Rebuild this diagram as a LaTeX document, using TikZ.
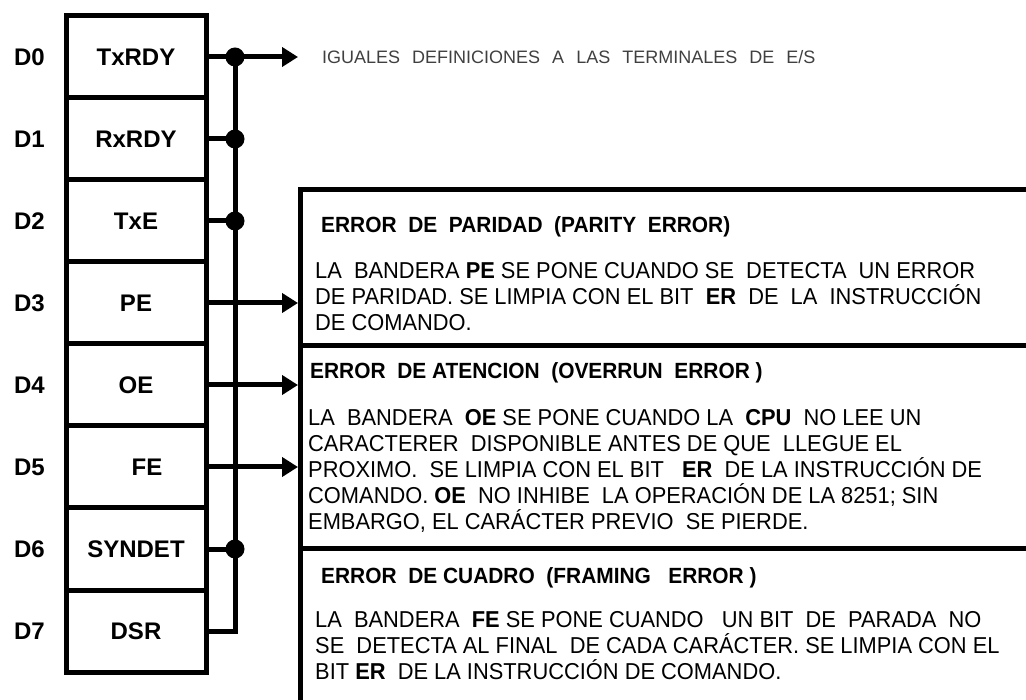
\documentclass[tikz,border=0pt]{standalone}
\usepackage{fontspec}
\setmainfont{Liberation Sans}
\newfontfamily\boxfont[FakeStretch=0.95]{Liberation Sans}
\usetikzlibrary{arrows.meta,positioning}
\tikzset{
    regcell/.style={
        rectangle,
        draw,
        line width=5pt,
        outer sep=0pt,
        inner sep=0pt,
        minimum width=140pt,
        minimum height=82pt,
        font=\bfseries\fontsize{24}{26}\selectfont
    },
    bitlabel/.style={inner sep=0pt, font=\bfseries\fontsize{24}{26}\selectfont},
    errbox/.style={rectangle, draw, line width=5pt, outer sep=0pt, minimum width=740pt, anchor=north west},
    errhead/.style={inner sep=0pt, anchor=base west, font=\boxfont\bfseries\fontsize{22}{24}\selectfont},
    errbody/.style={inner sep=0pt, anchor=north west, align=left, font=\boxfont\fontsize{23}{26}\selectfont},
    notetext/.style={inner sep=0pt, text=black!75, font={\fontsize{18}{20}\selectfont\spaceskip=12pt}},
    junction/.style={circle, fill, inner sep=0pt, minimum size=19pt},
    wire/.style={line width=5pt},
    flagline/.style={-{Triangle[length=16pt,width=19pt]}, line width=5pt},
}

\begin{document}
\begin{tikzpicture}[x=1pt, y=1pt]
    \useasboundingbox (0,0) rectangle (1026,-700);
    \clip (0,0) rectangle (1026,-700);

    % status register
    \node[regcell] (c0) at (136,-57) {TxRDY};
    \node[regcell, below=0pt of c0] (c1) {RxRDY};
    \node[regcell, below=0pt of c1] (c2) {TxE};
    \node[regcell, below=0pt of c2] (c3) {PE};
    \node[regcell, below=0pt of c3] (c4) {OE};
    \node[regcell, below=0pt of c4] (c5) {\hspace{22pt}FE};
    \node[regcell, below=0pt of c5] (c6) {SYNDET};
    \node[regcell, below=0pt of c6] (c7) {DSR};

    \node[bitlabel, left=21pt of c0] (d0) {D0};
    \node[bitlabel, left=21pt of c1] (d1) {D1};
    \node[bitlabel, left=21pt of c2] (d2) {D2};
    \node[bitlabel, left=21pt of c3] (d3) {D3};
    \node[bitlabel, left=21pt of c4] (d4) {D4};
    \node[bitlabel, left=21pt of c5] (d5) {D5};
    \node[bitlabel, left=21pt of c6] (d6) {D6};
    \node[bitlabel, left=21pt of c7] (d7) {D7};

    % bus
    \coordinate (bus) at ([xshift=29pt]c0.east);
    \node[junction] (j0) at (bus) {};
    \node[junction] (j1) at (c1.east -| bus) {};
    \node[junction] (j2) at (c2.east -| bus) {};
    \node[junction] (j6) at (c6.east -| bus) {};
    \node[notetext, right=116pt of c0] (note) {IGUALES DEFINICIONES A LAS TERMINALES DE E/S};

    \draw[flagline, shorten >=24pt] (c0) -- (note);
    \draw[wire] (c1) -- (j1.center);
    \draw[wire] (c2) -- (j2.center);
    \draw[wire] (c6) -- (j6.center);
    \draw[wire] (c7) -| (j0.center);

    % error boxes
    \node[errbox, minimum height=156pt] (pebox) at (300,-190) {};
    \node[errbox, minimum height=202pt, below=0pt of pebox.south west, anchor=north west] (oebox) {};
    \node[errbox, minimum height=180pt, below=0pt of oebox.south west, anchor=north west] (febox) {};

    \draw[flagline, shorten >=2pt] (c3) -- (c3 -| pebox.west);
    \draw[flagline, shorten >=2pt] (c4) -- (c4 -| oebox.west);
    \draw[flagline, shorten >=2pt] (c5) -- (c5 -| oebox.west);

    \node[errhead] (pehead) at ([shift={(21pt,-43pt)}]pebox.north west) {ERROR~ DE~ PARIDAD~ (PARITY~ ERROR)};
    \node[errbody] (pebody) at ([shift={(15pt,-72pt)}]pebox.north west)
        {LA~ BANDERA \textbf{PE} SE PONE CUANDO SE~ DETECTA~ UN ERROR\\
         DE PARIDAD. SE LIMPIA CON EL BIT~ \textbf{ER}~ DE~ LA~ INSTRUCCIÓN\\
         DE COMANDO.};

    \node[errhead] (oehead) at ([shift={(10pt,-33pt)}]oebox.north west) {ERROR~ DE ATENCION~ (OVERRUN~ ERROR )};
    \node[errbody] (oebody) at ([shift={(8pt,-63pt)}]oebox.north west)
        {LA~ BANDERA~ \textbf{OE} SE PONE CUANDO LA~ \textbf{CPU}~ NO LEE UN\\
         CARACTERER~ DISPONIBLE ANTES DE QUE~ LLEGUE EL\\
         PROXIMO.~ SE LIMPIA CON EL BIT~~ \textbf{ER}~ DE LA INSTRUCCIÓN DE\\
         COMANDO. \textbf{OE}~ NO INHIBE~ LA OPERACIÓN DE LA 8251; SIN\\
         EMBARGO, EL CARÁCTER PREVIO~ SE PIERDE.};

    \node[errhead] (fehead) at ([shift={(21pt,-35pt)}]febox.north west) {ERROR~ DE CUADRO~ (FRAMING~~ ERROR )};
    \node[errbody] (febody) at ([shift={(15pt,-63pt)}]febox.north west)
        {LA~ BANDERA~ \textbf{FE} SE PONE CUANDO~~ UN BIT~ DE~ PARADA~ NO\\
         SE~ DETECTA AL FINAL~ DE CADA CARÁCTER. SE LIMPIA CON EL\\
         BIT \textbf{ER}~ DE LA INSTRUCCIÓN DE COMANDO.};
\end{tikzpicture}
\end{document}
